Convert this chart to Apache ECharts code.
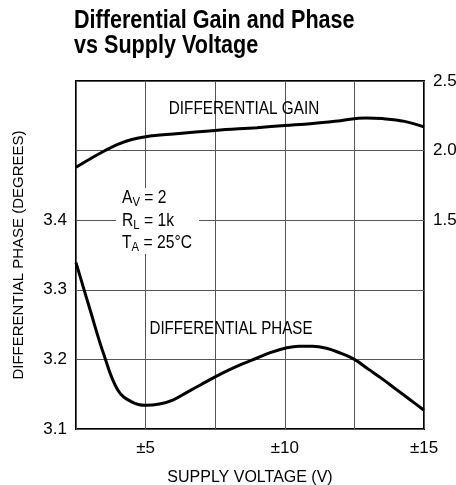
<!DOCTYPE html>
<html>
<head>
<meta charset="utf-8">
<script src="https://cdn.jsdelivr.net/npm/echarts@6/dist/echarts.min.js"></script>
<style>
  html, body { margin: 0; padding: 0; background: #fff; }
  #chart { width: 456px; height: 485px; }
</style>
</head>
<body>
<div id="chart"></div>
<script>
// ---- data ----
var supplyTicks = [5, 10, 15];
var phaseTickLabels = ['3.1', '3.2', '3.3', '3.4'];
var gainTickLabels = ['1.5', '2.0', '2.5'];

var phaseVoltage = [2.5, 3.0, 3.5, 4.0, 4.5, 5.0, 5.5, 6.0, 6.5, 7.0, 7.5, 8.0, 8.5, 9.0, 9.5, 10.0, 10.5, 11.0, 11.5, 12.0, 12.5, 13.0, 13.5, 14.0, 14.5, 15.0];
var phaseDegrees = [3.339, 3.272, 3.207, 3.156, 3.139, 3.134, 3.136, 3.142, 3.153, 3.164, 3.175, 3.185, 3.194, 3.202, 3.210, 3.216, 3.219, 3.219, 3.216, 3.209, 3.200, 3.186, 3.172, 3.157, 3.142, 3.127];

var gainVoltage = [2.5, 3.0, 3.5, 4.0, 4.5, 5.0, 6.0, 7.5, 9.0, 10.0, 11.0, 12.0, 12.9, 13.5, 14.3, 15.0];
var gainPercent = [1.88, 1.94, 1.995, 2.045, 2.08, 2.10, 2.12, 2.145, 2.165, 2.18, 2.195, 2.215, 2.235, 2.23, 2.21, 2.17];

var FONT = "'Liberation Sans', Arial, sans-serif";

function zip(xs, ys) { return xs.map(function (x, i) { return [x, ys[i]]; }); }

var chart = echarts.init(document.getElementById('chart'), null, { renderer: 'canvas' });

var subStyle = { fontFamily: FONT, fontSize: 13, lineHeight: 12, verticalAlign: 'bottom', fill: '#000' };

var option = {
  animation: false,
  backgroundColor: '#fff',
  grid: {
    left: 76, top: 81, width: 348, height: 348,
    outerBoundsMode: 'none',
    show: true, borderColor: '#000', borderWidth: 2, backgroundColor: 'transparent',
    containLabel: false
  },
  xAxis: {
    type: 'value', min: 2.5, max: 15, interval: 2.5,
    name: 'SUPPLY VOLTAGE (V)', nameLocation: 'middle', nameGap: 41,
    nameTextStyle: { fontFamily: FONT, fontSize: 16, color: '#000' },
    axisLine: { show: false }, axisTick: { show: false },
    axisLabel: {
      margin: 11, fontFamily: FONT, fontSize: 17, color: '#000',
      formatter: function (v) { return supplyTicks.indexOf(Math.round(v * 10) / 10) >= 0 ? '\u00b1' + v : ''; }
    },
    splitLine: { show: true, lineStyle: { color: '#555', width: 1 } }
  },
  yAxis: [{
    type: 'value', min: 3.1, max: 3.6, interval: 0.1, position: 'left',
    name: 'DIFFERENTIAL PHASE (DEGREES)', nameLocation: 'middle', nameGap: 50,
    nameTextStyle: { fontFamily: FONT, fontSize: 15, color: '#000' },
    axisLine: { show: false }, axisTick: { show: false },
    axisLabel: {
      margin: 9, fontFamily: FONT, fontSize: 17, color: '#000',
      formatter: function (v) { var s = v.toFixed(1); return phaseTickLabels.indexOf(s) >= 0 ? s : ''; }
    },
    splitLine: { show: true, lineStyle: { color: '#555', width: 1 } }
  }, {
    type: 'value', min: 0, max: 2.5, interval: 0.5, position: 'right',
    axisLine: { show: false }, axisTick: { show: false },
    axisLabel: {
      margin: 9, fontFamily: FONT, fontSize: 17, color: '#000',
      formatter: function (v) { var s = v.toFixed(1); return gainTickLabels.indexOf(s) >= 0 ? s : ''; }
    },
    splitLine: { show: false }
  }],
  series: [{
    name: 'Differential Phase', type: 'line', yAxisIndex: 0,
    data: zip(phaseVoltage, phaseDegrees), smooth: 0.4, showSymbol: false,
    lineStyle: { color: '#000', width: 3 }, z: 5
  }, {
    name: 'Differential Gain', type: 'line', yAxisIndex: 1,
    data: zip(gainVoltage, gainPercent), smooth: 0.4, showSymbol: false,
    lineStyle: { color: '#000', width: 3 }, z: 5
  }],
  graphic: [
    { type: 'text', x: 74, y: 8, scaleX: 0.83, style: {
        text: 'Differential Gain and Phase\nvs Supply Voltage',
        font: 'bold 26px ' + FONT, fill: '#000', verticalAlign: 'top', lineHeight: 25 } },
    { type: 'rect', shape: { x: 116, y: 188, width: 83, height: 66 }, style: { fill: '#fff' }, z: 10 },
    { type: 'text', x: 122, y: 198, scaleX: 0.87, z: 11, style: {
        text: 'A{s|V} = 2', rich: { s: subStyle },
        font: '18px ' + FONT, fill: '#000', verticalAlign: 'middle', lineHeight: 22 } },
    { type: 'text', x: 122, y: 221, scaleX: 0.87, z: 11, style: {
        text: 'R{s|L} = 1k', rich: { s: subStyle },
        font: '18px ' + FONT, fill: '#000', verticalAlign: 'middle', lineHeight: 22 } },
    { type: 'text', x: 122, y: 243, scaleX: 0.87, z: 11, style: {
        text: 'T{s|A} = 25\u00b0C', rich: { s: subStyle },
        font: '18px ' + FONT, fill: '#000', verticalAlign: 'middle', lineHeight: 22 } },
    { type: 'text', x: 244, y: 109, scaleX: 0.85, z: 11, style: {
        text: 'DIFFERENTIAL GAIN', font: '18px ' + FONT, fill: '#000', align: 'center', verticalAlign: 'middle' } },
    { type: 'text', x: 231, y: 329, scaleX: 0.84, z: 11, style: {
        text: 'DIFFERENTIAL PHASE', font: '18px ' + FONT, fill: '#000', align: 'center', verticalAlign: 'middle' } }
  ]
};

chart.setOption(option);
</script>
</body>
</html>
